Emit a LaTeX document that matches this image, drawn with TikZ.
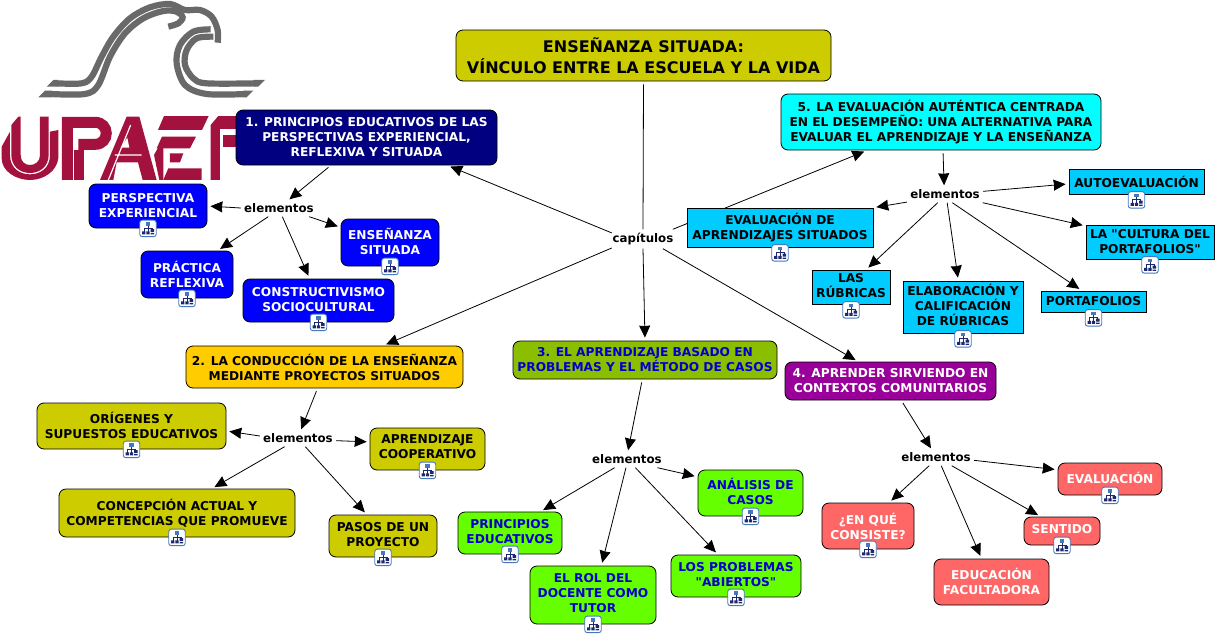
\documentclass[tikz,border=0pt]{standalone}
\usepackage{fontspec}
\setmainfont{DejaVu Sans}[Ligatures=TeXOff]
\usetikzlibrary{arrows.meta,backgrounds}
\definecolor{oliveTitle}{RGB}{204,204,0}
\definecolor{navyTop}{RGB}{0,0,128}
\definecolor{pureBlue}{RGB}{0,0,255}
\definecolor{goldTop}{RGB}{255,204,0}
\definecolor{limeTop}{RGB}{140,190,0}
\definecolor{limeBox}{RGB}{102,255,0}
\definecolor{textBlue}{RGB}{0,0,204}
\definecolor{purpleTop}{RGB}{153,0,153}
\definecolor{salmonBox}{RGB}{255,102,102}
\definecolor{cyanTop}{RGB}{0,255,255}
\definecolor{skyBox}{RGB}{0,204,255}
\definecolor{logoGray}{RGB}{105,105,105}
\definecolor{logoRed}{RGB}{163,18,62}
\definecolor{iconEdge}{RGB}{70,120,190}
\definecolor{iconDark}{RGB}{30,40,110}
\tikzset{
  concept/.style={
    rectangle, rounded corners=7pt, draw=black, line width=0.8pt, inner sep=0pt,
    align=center, font=\fontsize{12.2}{15}\selectfont\bfseries
  },
  textup/.style={execute at end node={\rule[-#1]{0pt}{0pt}}},
  textdown/.style={execute at begin node={\rule{0pt}{#1}}},
  squarebox/.style={concept, rounded corners=0pt, fill=skyBox},
  linkword/.style={
    rectangle, inner sep=0pt, minimum width=76pt, minimum height=17pt,
    font=\fontsize{11.8}{15}\selectfont\bfseries
  },
  iconbox/.style={
    rectangle, rounded corners=2.5pt, draw=iconEdge, line width=0.9pt,
    fill=white, minimum size=16.5pt, inner sep=0pt
  },
  cl/.style={-{Stealth[length=12pt,width=11pt,inset=0.5pt]}, line width=0.8pt, shorten <=3pt},
  lc/.style={-{Stealth[length=12pt,width=11pt,inset=0.5pt]}, line width=0.8pt, shorten >=3pt},
  grayband/.style={draw=logoGray, line width=6.2pt}
}
\newcommand{\mapicon}[2]{%
  \node[iconbox, yshift=#2] (#1i) at (#1.south) {};
  \begin{scope}[shift={(#1i.center)}]
    \draw[iconDark, line width=0.7pt] (0,-3)--(0,4.5) (-4,-0.5)--(4,-0.5) (-4,-0.5)--(-4,4) (4,-0.5)--(4,2);
    \fill[iconEdge] (-2.2,-6) rectangle (2.2,-2.8);
    \fill[iconDark] (-6,3) rectangle (-2.6,6) (-1.6,3) rectangle (1.6,6) (2.6,0.8) rectangle (6,3.8) (2.6,4.6) rectangle (6,6);
  \end{scope}
}
\begin{document}
\begin{tikzpicture}[x=1pt, y=-1pt]
  \useasboundingbox (0,0) rectangle (1217,637);
  % top boxes
  \node[concept, fill=oliveTitle, minimum width=375pt, minimum height=51pt,
        font=\fontsize{16}{21}\selectfont\bfseries] (title) at (643.5,55.5) {ENSEÑANZA SITUADA:\\VÍNCULO ENTRE LA ESCUELA Y LA VIDA};
  \node[concept, fill=navyTop, text=white, minimum width=261pt, minimum height=55pt] (t1) at (366.5,137.5) {1. PRINCIPIOS EDUCATIVOS DE LAS\\PERSPECTIVAS EXPERIENCIAL,\\REFLEXIVA Y SITUADA};
  \node[concept, fill=goldTop, minimum width=277pt, minimum height=42pt] (t2) at (324.5,367) {2. LA CONDUCCIÓN DE LA ENSEÑANZA\\MEDIANTE PROYECTOS SITUADOS};
  \node[concept, fill=limeTop, text=textBlue, minimum width=264pt, minimum height=38pt] (t3) at (645,360) {3. EL APRENDIZAJE BASADO EN\\PROBLEMAS Y EL MÉTODO DE CASOS};
  \node[concept, fill=purpleTop, text=white, minimum width=211pt, minimum height=38pt] (t4) at (890.5,381) {4. APRENDER SIRVIENDO EN\\CONTEXTOS COMUNITARIOS};
  \node[concept, textdown=14pt, fill=cyanTop, minimum width=320pt, minimum height=56pt] (t5) at (941,122) {5. LA EVALUACIÓN AUTÉNTICA CENTRADA\\EN EL DESEMPEÑO: UNA ALTERNATIVA PARA\\EVALUAR EL APRENDIZAJE Y LA ENSEÑANZA};
  % linking words
  \node[linkword, minimum width=62pt, minimum height=19pt] (cap) at (643,239) {capítulos};
  \node[linkword] (el1) at (279,208) {elementos};
  \node[linkword] (el2) at (298,438) {elementos};
  \node[linkword] (el3) at (627,459) {elementos};
  \node[linkword] (el4) at (936,457) {elementos};
  \node[linkword] (el5) at (945,194) {elementos};
  % group 1
  \node[concept, textup=2pt, fill=pureBlue, text=white, minimum width=118pt, minimum height=44pt] (ps) at (148,206) {PERSPECTIVA\\EXPERIENCIAL};
  \node[concept, textup=2pt, fill=pureBlue, text=white, minimum width=98pt, minimum height=47pt] (ens) at (390,242.5) {ENSEÑANZA\\SITUADA};
  \node[concept, fill=pureBlue, text=white, minimum width=92pt, minimum height=47pt] (prac) at (187,274.5) {PRÁCTICA\\REFLEXIVA};
  \node[concept, textup=2pt, fill=pureBlue, text=white, minimum width=151pt, minimum height=43pt] (cons) at (318.5,300.5) {CONSTRUCTIVISMO\\SOCIOCULTURAL};
  % group 2
  \node[concept, textup=2pt, fill=oliveTitle, minimum width=189pt, minimum height=46pt] (ori) at (131.5,426) {ORÍGENES Y\\SUPUESTOS EDUCATIVOS};
  \node[concept, textup=4pt, fill=oliveTitle, minimum width=115pt, minimum height=42pt] (cop) at (427.5,449) {APRENDIZAJE\\COOPERATIVO};
  \node[concept, textup=2pt, fill=oliveTitle, minimum width=236pt, minimum height=48pt] (con) at (177,513) {CONCEPCIÓN ACTUAL Y\\COMPETENCIAS QUE PROMUEVE};
  \node[concept, textup=4pt, fill=oliveTitle, minimum width=108pt, minimum height=42pt] (pas) at (383,536) {PASOS DE UN\\PROYECTO};
  % group 3
  \node[concept, textup=4pt, fill=limeBox, text=textBlue, minimum width=104pt, minimum height=42pt] (pri) at (510,533) {PRINCIPIOS\\EDUCATIVOS};
  \node[concept, textup=4pt, fill=limeBox, text=textBlue, minimum width=105pt, minimum height=46pt] (ana) at (750.5,493) {ANÁLISIS DE\\CASOS};
  \node[concept, textup=4pt, fill=limeBox, text=textBlue, minimum width=126pt, minimum height=58pt] (rol) at (593,595) {EL ROL DEL\\DOCENTE COMO\\TUTOR};
  \node[concept, textup=4pt, fill=limeBox, text=textBlue, minimum width=130pt, minimum height=42pt] (pro) at (736,576) {LOS PROBLEMAS\\"ABIERTOS"};
  % group 4
  \node[concept, fill=salmonBox, text=white, minimum width=92pt, minimum height=46pt] (que) at (868,526) {¿EN QUÉ\\CONSISTE?};
  \node[concept, textup=2pt, fill=salmonBox, text=white, minimum width=104pt, minimum height=32pt] (eva) at (1110,479) {EVALUACIÓN};
  \node[concept, textup=4pt, fill=salmonBox, text=white, minimum width=76pt, minimum height=28pt] (sen) at (1062,531) {SENTIDO};
  \node[concept, textup=2pt, fill=salmonBox, text=white, minimum width=115pt, minimum height=46pt] (edu) at (991.5,582) {EDUCACIÓN\\FACULTADORA};
  % group 5
  \node[squarebox, minimum width=186pt, minimum height=39pt] (sit) at (780,227.5) {EVALUACIÓN DE\\APRENDIZAJES SITUADOS};
  \node[squarebox, minimum width=135pt, minimum height=25pt] (aut) at (1136.5,181.5) {AUTOEVALUACIÓN};
  \node[squarebox, textup=2pt, minimum width=128pt, minimum height=34pt] (cul) at (1150,242) {LA "CULTURA DEL\\PORTAFOLIOS"};
  \node[squarebox, textup=4pt, minimum width=78pt, minimum height=34pt] (rub) at (851,287) {LAS\\RÚBRICAS};
  \node[squarebox, textup=4pt, minimum width=120pt, minimum height=52pt] (ela) at (963,307) {ELABORACIÓN Y\\CALIFICACIÓN\\DE RÚBRICAS};
  \node[squarebox, minimum width=105pt, minimum height=21pt] (por) at (1093.5,301.5) {PORTAFOLIOS};
  % small icons
  \foreach \nm in {ps,ens,prac,cons,ori,cop,con,pas,pri,ana,rol,pro,que,eva,sen}
    {\mapicon{\nm}{0pt}}
  \foreach \nm in {sit,aut,cul,rub,ela,por}
    {\mapicon{\nm}{-5.5pt}}
  \begin{scope}[on background layer]
    % logo, eagle
    \begin{scope}[shift={(30,0)}, x=0.3333pt, y=-0.3333pt]
      \draw[grayband] plot[smooth, tension=0.55] coordinates {(80,250) (155,250) (185,230) (215,170) (250,110) (300,55) (360,22) (420,12) (465,30) (510,30) (545,50) (563,90) (563,128)};
      \draw[grayband] plot[smooth, tension=0.55] coordinates {(60,282) (165,282) (205,255) (240,170) (285,100) (340,55) (400,33) (440,35) (458,52) (445,70) (415,80)};
      \draw[grayband] plot[smooth, tension=0.55] coordinates {(542,88) (490,95) (450,135) (440,190) (465,255) (530,282) (650,282)};
      \draw[grayband] plot[smooth, tension=0.55] coordinates {(550,110) (500,115) (470,150) (465,195) (490,235) (530,250) (680,250)};
      \fill[logoGray] (70,240)--(50,260)--(85,260)--(85,240)--cycle (45,272)--(25,292)--(65,292)--(65,272)--cycle;
      \fill[logoGray] (640,272)--(670,272)--(650,292)--(640,292)--cycle (670,240)--(705,240)--(685,260)--(670,260)--cycle;
    \end{scope}
    % logo, letters
    \begin{scope}[shift={(0,105)}, x=0.3333pt, y=-0.3333pt]
      \fill[logoRed] (5,125)--(30,80)--(30,150) .. controls (30,190) and (60,208) .. (90,208) .. controls (120,208) and (150,190) .. (150,150)--(150,80)--(175,75)--(175,160) .. controls (170,200) and (130,225) .. (90,225) .. controls (50,225) and (5,200) .. (5,160)--cycle;
      \fill[logoRed] (34,60)--(55,35)--(62,35)--(62,150) .. controls (62,170) and (75,180) .. (90,180) .. controls (105,180) and (120,170) .. (120,150)--(120,35)--(146,35)--(146,150) .. controls (146,184) and (120,204) .. (90,204) .. controls (60,204) and (34,184) .. (34,150)--cycle;
      \draw[logoRed, line width=11pt] (202,225)--(202,52)--(285,52) .. controls (330,52) and (330,118) .. (285,118)--(235,118);
      \fill[logoRed] (222,135)--(252,135)--(252,225)--(222,225)--cycle;
      \fill[logoRed] (300,225)--(380,35)--(418,35)--(470,225)--(428,225)--(414,172)--(350,172)--(340,225)--cycle;
      \fill[white] (362,128)--(388,128)--(382,98)--cycle;
      \draw[white, line width=1.2pt] (325,225)--(392,60) (345,150)--(425,150);
      \fill[logoRed] (492,33)--(626,33)--(606,75)--(474,75)--cycle;
      \fill[logoRed] (486,95)--(588,95)--(570,130)--(470,130)--cycle;
      \fill[logoRed] (462,150)--(490,100)--(490,225)--(478,225)--cycle;
      \fill[logoRed] (510,145)--(550,145)--(540,172)--(510,172)--cycle (505,190)--(605,190)--(605,225)--(490,225)--cycle;
      \fill[logoRed] (632,60)--(655,33)--(720,33)--(720,72)--(660,72)--(660,225)--(632,225)--cycle;
      \fill[logoRed] (668,90)--(720,90)--(720,125)--(668,125)--cycle;
    \end{scope}
    % connectors
    \draw[line width=0.8pt, shorten <=3pt] (title.south) -- (cap.north);
    \draw[lc] (cap.169) -- (t1.-19.5);
    \draw[lc] (cap.18) -- (t5.201);
    \draw[lc] (cap.196.2) -- (t2.20.7);
    \draw[lc] (cap.south) -- (t3.north);
    \draw[lc] (cap.-26.6) -- (t4.149.7);
    \draw[cl] (t1.218.6) -- (el1.40);
    \draw[lc] (el1.west) -- (ps.east);
    \draw[lc] (el1.219) -- (prac.38);
    \draw[lc] (el1.-69) -- (cons.112);
    \draw[lc] (el1.-16.5) -- (ens.163.5);
    \draw[cl] (t2.-108.2) -- (el2.70.6);
    \draw[lc] (el2.177) -- (ori.-3.3);
    \draw[lc] (el2.-4.4) -- (cop.173);
    \draw[lc] (el2.213.7) -- (con.35.2);
    \draw[lc] (el2.-50.5) -- (pas.127.8);
    \draw[cl] (t3.262.8) -- (el3.83);
    \draw[lc] (el3.215.3) -- (pri.35);
    \draw[lc] (el3.263) -- (rol.74.6);
    \draw[lc] (el3.-16.2) -- (ana.163.6);
    \draw[lc] (el3.-46.7) -- (pro.130.9);
    \draw[cl] (t4.-61) -- (el4.120.5);
    \draw[lc] (el4.232) -- (que.48.2);
    \draw[lc] (el4.-59.5) -- (edu.113.9);
    \draw[lc] (el4.-29.5) -- (sen.146.3);
    \draw[lc] (el4.-5.9) -- (eva.170.7);
    \draw[cl] (t5.-86) -- (el5.96.7);
    \draw[lc] (el5.192) -- (sit.12);
    \draw[lc] (el5.230.5) -- (rub.49);
    \draw[lc] (el5.-76.8) -- (ela.100);
    \draw[lc] (el5.-50.5) -- (por.137.6);
    \draw[lc] (el5.4.4) -- (aut.182.1);
    \draw[lc] (el5.-13) -- (cul.166.6);
  \end{scope}
\end{tikzpicture}
\end{document}
